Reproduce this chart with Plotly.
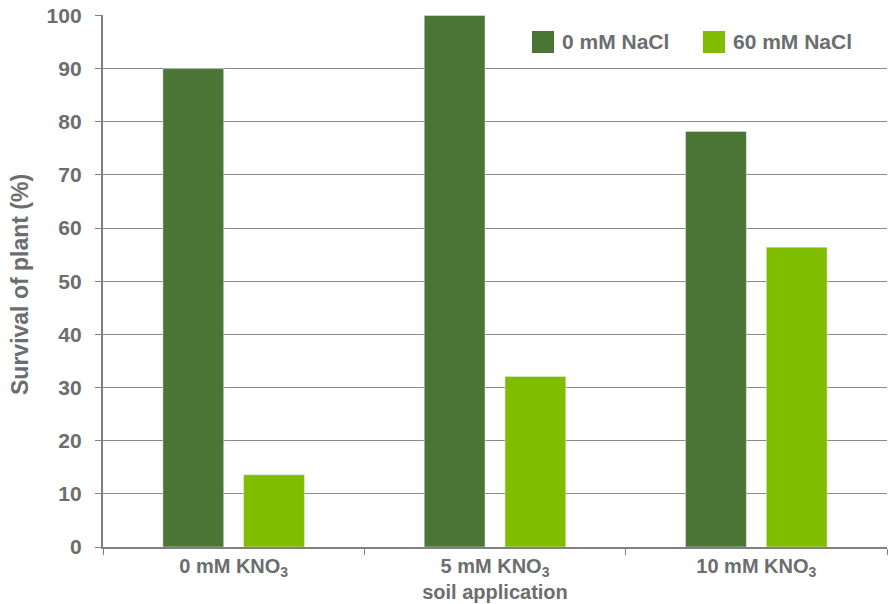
import plotly.graph_objects as go

categories = ["0 mM KNO<sub>3</sub>", "5 mM KNO<sub>3</sub><br>soil application", "10 mM KNO<sub>3</sub>"]
series_names = ["0 mM NaCl", "60 mM NaCl"]
series_colors = ["#4a7535", "#80bc00"]
nacl_0 = [90, 100, 78.2]
nacl_60 = [13.6, 32.1, 56.4]
y_ticks = [0, 10, 20, 30, 40, 50, 60, 70, 80, 90, 100]
y_title = "Survival of plant (%)"

W, H = 888, 604
ML, MR, MT, MB = 103, 1, 15, 57
gray = "#6b6d6e"
font_main = "Liberation Sans, Arial, sans-serif"

def px_x(x):
    return (x - ML) / (W - ML - MR)

def px_y(y):
    return (H - MB - y) / (H - MT - MB)

fig = go.Figure()
fig.add_trace(go.Bar(x=categories, y=nacl_0, name=series_names[0], marker_color=series_colors[0]))
fig.add_trace(go.Bar(x=categories, y=nacl_60, name=series_names[1], marker_color=series_colors[1]))

# manual legend with large square swatches
legend_items = [(532, series_names[0], series_colors[0]), (703, series_names[1], series_colors[1])]
for x0, name, col in legend_items:
    fig.add_shape(type="rect", xref="paper", yref="paper",
                  x0=px_x(x0), x1=px_x(x0 + 22), y0=px_y(53), y1=px_y(31),
                  fillcolor=col, line=dict(width=0))
    fig.add_annotation(xref="paper", yref="paper", x=px_x(x0 + 28), y=px_y(42),
                       xanchor="left", yanchor="middle", showarrow=False, text=name,
                       font=dict(size=21, family=font_main, color=gray, weight="bold"))

# y-axis title placed as rotated annotation
fig.add_annotation(xref="paper", yref="paper", x=px_x(20), y=px_y(285),
                   xanchor="center", yanchor="middle", showarrow=False, textangle=-90,
                   text=y_title, font=dict(size=23, family=font_main, color=gray, weight="bold"))

# invisible spacer after each tick label to push labels away from the axis
spacer = "<span style='color:rgba(0,0,0,0);font-size:17px'>0</span>"
y_ticktext = [f"{v}{spacer}" for v in y_ticks]

fig.update_layout(
    width=W, height=H,
    margin=dict(l=ML, r=MR, t=MT, b=MB),
    paper_bgcolor="white", plot_bgcolor="white",
    barmode="group", bargap=0.382, bargroupgap=0.247,
    font=dict(family=font_main, color=gray),
    showlegend=False,
)
fig.update_yaxes(
    range=[0, 100.1], tickvals=y_ticks, ticktext=y_ticktext,
    ticks="outside", ticklen=6, tickcolor="#808080",
    automargin=False, ticklabeloverflow="allow",
    showgrid=True, gridcolor="#8a8a8a", gridwidth=1,
    showline=True, linecolor="#808080", linewidth=1.5,
    zeroline=False,
    tickfont=dict(size=21, family=font_main, color=gray, weight="bold"),
)
fig.update_xaxes(
    ticks="outside", tickson="boundaries", ticklen=6, tickcolor="#808080",
    showline=True, linecolor="#808080", linewidth=1.5, automargin=False,
    tickfont=dict(size=20, family="Liberation Sans Narrow, Arial Narrow, sans-serif", color=gray, weight="bold"),
)

# remove the browser's default 8px body margin so the figure fills the window
fig.write_html("out.html", config={"displayModeBar": False},
               post_script="document.body.style.margin='0';document.body.style.overflow='hidden';")
